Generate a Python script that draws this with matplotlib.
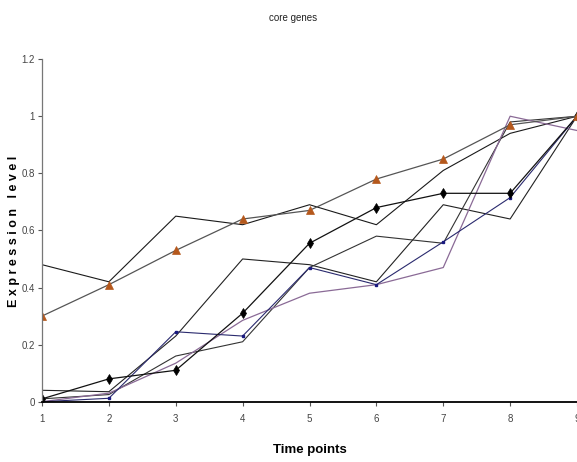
import matplotlib
matplotlib.use("Agg")
import matplotlib.pyplot as plt

# time points and expression profiles of the core genes
time_points = [1, 2, 3, 4, 5, 6, 7, 8, 9]

gene_tri = [0.30, 0.41, 0.53, 0.64, 0.67, 0.78, 0.85, 0.97, 1.00]
gene_b = [0.48, 0.42, 0.65, 0.62, 0.69, 0.62, 0.81, 0.94, 1.00]
gene_diamond = [0.01, 0.08, 0.11, 0.31, 0.555, 0.68, 0.73, 0.73, 1.00]
gene_c = [0.04, 0.035, 0.23, 0.50, 0.48, 0.42, 0.69, 0.64, 1.00]
gene_d = [0.01, 0.025, 0.16, 0.21, 0.47, 0.58, 0.555, 0.98, 1.00]
gene_blue = [0.00, 0.012, 0.245, 0.23, 0.47, 0.41, 0.56, 0.715, 1.00]
gene_purple = [0.00, 0.03, 0.135, 0.285, 0.38, 0.41, 0.47, 1.00, 0.95]

y_ticks = [0, 0.2, 0.4, 0.6, 0.8, 1, 1.2]
y_tick_labels = ["0", "0.2", "0.4", "0.6", "0.8", "1", "1.2"]

font = "Liberation Sans"

fig = plt.figure(figsize=(5.77, 4.62), dpi=100)
ax = fig.add_axes([0.0728, 0.1305, 0.9272, 0.7415])

ax.plot(time_points, gene_b, color="#1a1a1a", lw=0.8)
ax.plot(time_points, gene_c, color="#222222", lw=0.8)
ax.plot(time_points, gene_d, color="#333333", lw=0.8)
ax.plot(time_points, gene_purple, color="#8a6a96", lw=0.9)
ax.plot(time_points, gene_blue, color="#2a2a6e", lw=0.8,
        marker="s", ms=2, mfc="#1a1a80", mec="#1a1a80")
ax.plot(time_points, gene_diamond, color="#111111", lw=0.9,
        marker="d", ms=5, mew=0.5, mfc="black", mec="black")
ax.plot(time_points, gene_tri, color="#555555", lw=0.9,
        marker="^", ms=5.5, mew=0.5, mfc="#b5581c", mec="#b5581c")

ax.set_xlim(1, 9)
ax.set_ylim(0, 1.2)
ax.set_xticks(time_points)
ax.set_yticks(y_ticks)
ax.set_yticklabels(y_tick_labels)

for side in ["top", "right"]:
    ax.spines[side].set_visible(False)
ax.spines["left"].set_color("#777777")
ax.spines["left"].set_linewidth(0.9)
ax.spines["bottom"].set_color("black")
ax.spines["bottom"].set_linewidth(1.3)

ax.tick_params(axis="both", direction="out", length=3, width=0.8,
               colors="#555555", labelsize=7, pad=2)
for lab in ax.get_xticklabels() + ax.get_yticklabels():
    lab.set_fontfamily(font)
    lab.set_color("#444444")
ax.tick_params(axis="x", pad=6)

ax.set_xlabel("Time points", fontfamily=font, fontsize=9.5,
              fontweight="bold", labelpad=14)
fig.text(0.025, 0.50, "E x p r e s s i o n   l e v e l", rotation=90,
         ha="center", va="center", fontfamily=font, fontsize=9,
         fontweight="bold")
fig.text(0.508, 0.962, "core genes", ha="center", va="center",
         fontfamily=font, fontsize=7, color="#222222")

fig.savefig("out.png", dpi=100)
